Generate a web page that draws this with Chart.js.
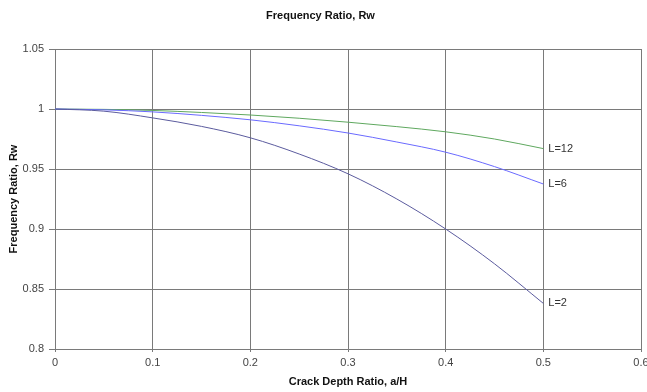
<!DOCTYPE html>
<html>
<head>
<meta charset="utf-8">
<script src="https://cdn.jsdelivr.net/npm/chart.js@4/dist/chart.umd.min.js"></script>
<style>
html,body{margin:0;padding:0;background:#fff;}
#wrap{width:647px;height:392px;position:relative;}
</style>
</head>
<body>
<div id="wrap"><canvas id="c" width="647" height="392"></canvas></div>
<script>
const crackDepth = [0, 0.05, 0.1, 0.15, 0.2, 0.25, 0.3, 0.35, 0.4, 0.45, 0.5];
const rwL2  = [1, 0.9982, 0.9926, 0.9855, 0.976, 0.9625, 0.946, 0.925, 0.900, 0.871, 0.838];
const rwL6  = [1, 0.9993, 0.9976, 0.9947, 0.991, 0.986, 0.980, 0.9725, 0.964, 0.952, 0.9375];
const rwL12 = [1, 0.9997, 0.9988, 0.9971, 0.995, 0.9923, 0.989, 0.9853, 0.981, 0.975, 0.967];
const seriesNames = ['L=2', 'L=6', 'L=12'];
const xTickLabels = ['0', '0.1', '0.2', '0.3', '0.4', '0.5', '0.6'];
const yTickLabels = ['0.8', '0.85', '0.9', '0.95', '1', '1.05'];

const toPts = arr => crackDepth.map((x, i) => ({x: x, y: arr[i]}));
const colors = ['#5b5b9e', '#6a6aff', '#5fa85f'];

const endLabels = {
  id: 'endLabels',
  afterDatasetsDraw(chart) {
    const ctx = chart.ctx;
    ctx.save();
    ctx.font = '11px "Liberation Sans", Arial, sans-serif';
    ctx.fillStyle = '#333';
    ctx.textBaseline = 'middle';
    ctx.textAlign = 'left';
    chart.data.datasets.forEach((ds, i) => {
      const meta = chart.getDatasetMeta(i);
      const p = meta.data[meta.data.length - 1];
      ctx.fillText(ds.label, p.x + 5, p.y);
    });
    ctx.restore();
  }
};

new Chart(document.getElementById('c'), {
  type: 'line',
  data: {
    datasets: [
      {label: seriesNames[0], data: toPts(rwL2), borderColor: colors[0]},
      {label: seriesNames[1], data: toPts(rwL6), borderColor: colors[1]},
      {label: seriesNames[2], data: toPts(rwL12), borderColor: colors[2]}
    ].map(d => Object.assign(d, {borderWidth: 1, pointRadius: 0, cubicInterpolationMode: 'monotone', fill: false}))
  },
  options: {
    responsive: false,
    animation: false,
    layout: {padding: {left: 0, right: 6, top: 0, bottom: 0}},
    plugins: {
      legend: {display: false},
      tooltip: {enabled: false},
      title: {
        display: true,
        text: 'Frequency Ratio, Rw',
        color: '#111',
        font: {family: '"Liberation Sans", Arial, sans-serif', size: 11, weight: 'bold'},
        padding: {top: 9, bottom: 26.8}
      }
    },
    scales: {
      x: {
        type: 'linear',
        min: 0, max: 0.6,
        ticks: {
          stepSize: 0.1,
          padding: 4,
          color: '#444',
          font: {family: '"Liberation Sans", Arial, sans-serif', size: 11},
          maxRotation: 0,
          callback: (v, i) => xTickLabels[i]
        },
        grid: {color: '#7a7a7a', lineWidth: 1, tickLength: 3},
        border: {color: '#7a7a7a'},
        title: {
          display: true,
          text: 'Crack Depth Ratio, a/H',
          color: '#111',
          font: {family: '"Liberation Sans", Arial, sans-serif', size: 11, weight: 'bold'},
          padding: {top: 4, bottom: 3}
        },
        afterFit: s => { s.height = 43; s.paddingLeft = 0; s.paddingRight = 0; }
      },
      y: {
        min: 0.8, max: 1.05,
        ticks: {
          stepSize: 0.05,
          padding: 5,
          color: '#444',
          font: {family: '"Liberation Sans", Arial, sans-serif', size: 11},
          callback: (v, i) => yTickLabels[i]
        },
        grid: {color: '#7a7a7a', lineWidth: 1, tickLength: 6},
        border: {color: '#7a7a7a'},
        title: {
          display: true,
          text: 'Frequency Ratio, Rw',
          color: '#111',
          font: {family: '"Liberation Sans", Arial, sans-serif', size: 11, weight: 'bold'},
          padding: {top: 7, bottom: 4}
        },
        afterFit: s => { s.width = 55; s.paddingTop = 0; s.paddingBottom = 0; }
      }
    }
  },
  plugins: [endLabels]
});
</script>
</body>
</html>
